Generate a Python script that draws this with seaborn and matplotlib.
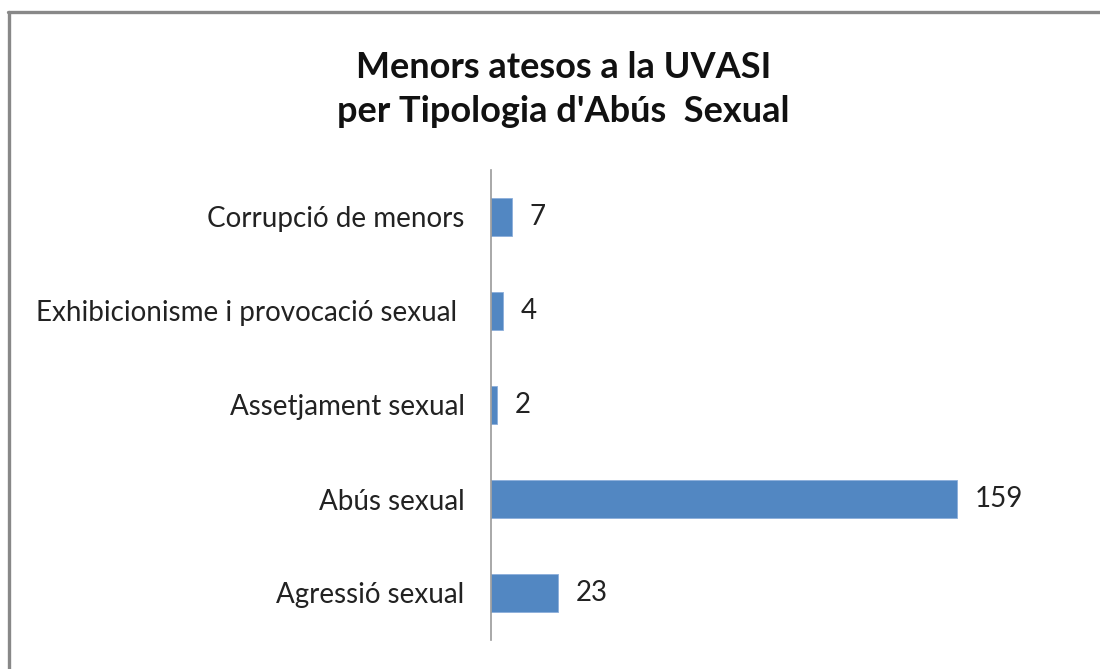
import matplotlib
matplotlib.use('Agg')
import matplotlib.pyplot as plt
import seaborn as sns
import pandas as pd
from matplotlib.lines import Line2D

# Dades del gràfic
categories = ['Corrupció de menors', 'Exhibicionisme i provocació sexual ',
              'Assetjament sexual', 'Abús sexual', 'Agressió sexual']
values = [7, 4, 2, 159, 23]

df = pd.DataFrame({'tipologia': categories, 'menors': values})

sns.set_style('white')
plt.rcParams['font.family'] = ['Lato', 'DejaVu Sans']

fig = plt.figure(figsize=(11, 6.69), dpi=100)
ax = fig.add_axes([491 / 1100, 29 / 669, 540 / 1100, 470 / 669])

sns.barplot(data=df, x='menors', y='tipologia', orient='h', order=categories,
            color='#5287C2', saturation=1, width=0.4, edgecolor='#8CAEDB',
            linewidth=0.6, ax=ax)

ax.set_xlim(0, 540 / 2.931)
ax.set_ylim(4.5, -0.5)
ax.set_xlabel('')
ax.set_ylabel('')
ax.set_xticks([])
for s in ['top', 'right', 'bottom']:
    ax.spines[s].set_visible(False)
ax.spines['left'].set_color('#999999')
ax.spines['left'].set_linewidth(1.2)
ax.tick_params(axis='y', length=0, pad=19, labelsize=20, labelcolor='#222222')

for i, v in enumerate(values):
    ax.text(v + 6, i, str(v), va='center', ha='left', fontsize=20, color='#222222')

fig.text(0.512, 0.899, "Menors atesos a la UVASI", ha='center', va='center',
         fontsize=26, fontweight='bold', color='#111111')
fig.text(0.512, 0.834, "per Tipologia d'Abús  Sexual", ha='center', va='center',
         fontsize=26, fontweight='bold', color='#111111')

# vora del gràfic (només dalt i esquerra)
fig.add_artist(Line2D([9 / 1100, 9 / 1100], [0, 1 - 12 / 669], color='#888888', lw=2.4,
                      transform=fig.transFigure))
fig.add_artist(Line2D([8 / 1100, 1], [1 - 12 / 669, 1 - 12 / 669], color='#888888', lw=2.4,
                      transform=fig.transFigure))

fig.savefig('out.png', dpi=100)
